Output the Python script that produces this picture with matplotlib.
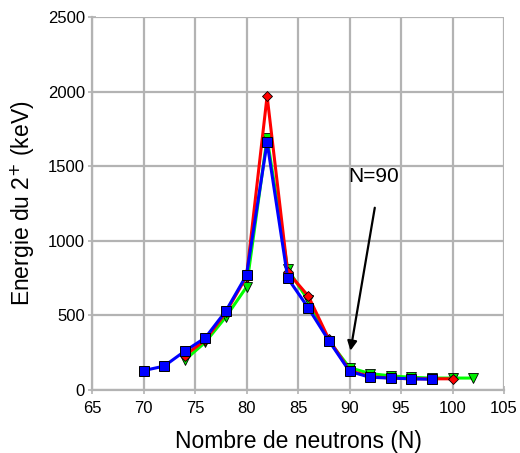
import matplotlib
matplotlib.use("Agg")
import matplotlib.pyplot as plt

plt.rcParams['font.family'] = ['Liberation Sans', 'DejaVu Sans']

# Data
n_red = [74, 76, 78, 80, 82, 84, 86, 88, 90, 92, 94, 96, 98, 100]
e_red = [230, 335, 520, 760, 1970, 790, 630, 340, 130, 90, 80, 75, 75, 75]

n_green = [74, 76, 78, 80, 82, 84, 86, 88, 90, 92, 94, 96, 98, 100, 102]
e_green = [200, 320, 490, 690, 1690, 810, 600, 330, 150, 110, 95, 85, 80, 80, 80]

n_blue = [70, 72, 74, 76, 78, 80, 82, 84, 86, 88, 90, 92, 94, 96, 98]
e_blue = [130, 160, 260, 350, 530, 770, 1660, 750, 550, 330, 125, 85, 80, 75, 72]

xticks = [65, 70, 75, 80, 85, 90, 95, 100, 105]
yticks = [0, 500, 1000, 1500, 2000, 2500]

fig = plt.figure(figsize=(5.2, 4.53), dpi=100)
ax = fig.add_axes([92/520, 1 - 390/453, (504-92)/520, (390-17)/453])

ax.plot(n_green, e_green, color='#00ff00', lw=2.2, marker='v', ms=7,
        mfc='#00ee00', mec='black', mew=0.6, zorder=3)
ax.plot(n_red, e_red, color='#ff0000', lw=2.2, marker='D', ms=5.5,
        mfc='#ff0000', mec='black', mew=0.6, zorder=4)
ax.plot(n_blue, e_blue, color='#0000ff', lw=2.2, marker='s', ms=7.5,
        mfc='#0000ff', mec='black', mew=0.7, zorder=5)

ax.set_xlim(65, 105)
ax.set_ylim(0, 2500)
ax.set_xticks(xticks)
ax.set_yticks(yticks)
ax.grid(True, color='#b3b3b3', lw=1.6)
ax.set_axisbelow(True)
for s in ['top', 'right']:
    ax.spines[s].set_visible(False)
for s in ['left', 'bottom']:
    ax.spines[s].set_color('#b3b3b3')
    ax.spines[s].set_linewidth(1.6)
ax.tick_params(direction='inout', length=6, color='#b3b3b3', width=1.2,
               labelsize=12)
ax.tick_params(axis='x', pad=5)
ax.tick_params(axis='y', pad=2)

ax.set_xlabel('Nombre de neutrons (N)', fontsize=16.5, labelpad=10)
ax.set_ylabel('Energie du 2$^{+}$ (keV)', fontsize=16.5, labelpad=8)

ax.annotate('', xy=(90.05, 245), xytext=(92.5, 1240),
            arrowprops=dict(arrowstyle='-|>', color='black', lw=1.6,
                            mutation_scale=14), zorder=6)
ax.text(92.3, 1430, 'N=90', fontsize=15, ha='center', va='center', zorder=6)

fig.savefig('out.png', dpi=100)
